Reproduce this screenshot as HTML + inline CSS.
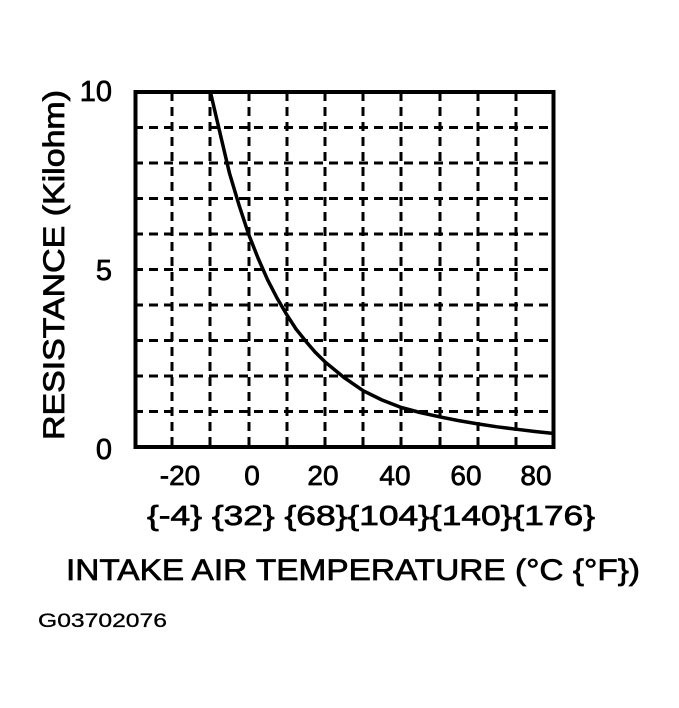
<!DOCTYPE html>
<html><head><style>html,body{margin:0;padding:0;background:#fff}</style></head>
<body>
<svg width="679" height="703" viewBox="0 0 679 703" xmlns="http://www.w3.org/2000/svg" font-family="Liberation Sans, Arial, sans-serif">
<g stroke="#000" stroke-width="3" stroke-dasharray="9,6" fill="none">
<line x1="172" y1="92" x2="172" y2="447"/><line x1="210" y1="92" x2="210" y2="447"/>
<line x1="249" y1="92" x2="249" y2="447"/><line x1="287" y1="92" x2="287" y2="447"/>
<line x1="325" y1="92" x2="325" y2="447"/><line x1="363" y1="92" x2="363" y2="447"/>
<line x1="401" y1="92" x2="401" y2="447"/><line x1="440" y1="92" x2="440" y2="447"/>
<line x1="478" y1="92" x2="478" y2="447"/><line x1="516" y1="92" x2="516" y2="447"/>
<line x1="134" y1="127.5" x2="554" y2="127.5"/><line x1="134" y1="163" x2="554" y2="163"/>
<line x1="134" y1="198.5" x2="554" y2="198.5"/><line x1="134" y1="234" x2="554" y2="234"/>
<line x1="134" y1="269.5" x2="554" y2="269.5"/><line x1="134" y1="305" x2="554" y2="305"/>
<line x1="134" y1="340.5" x2="554" y2="340.5"/><line x1="134" y1="376" x2="554" y2="376"/>
<line x1="134" y1="411.5" x2="554" y2="411.5"/>
</g>
<rect x="135.5" y="92" width="418" height="355" fill="none" stroke="#000" stroke-width="4"/>
<polyline points="210.4,92 220,133 229.5,173.3 239,205 248.5,234 258,258 267.6,279.8 277,298 286.7,314.6 296,329 305.8,341.2 315,352 324.9,361.8 344,377.5 363.1,390.7 382,400 401.3,407.5 420,412.5 439.5,416.8 458,420.5 477.7,423.9 497,426.8 515.9,429.2 535,431.5 554,433.5" fill="none" stroke="#000" stroke-width="3.5" stroke-linejoin="round"/>
<g font-size="29" text-anchor="end" stroke="#000" stroke-width="0.7">
<text x="112" y="101">10</text><text x="112" y="280">5</text><text x="112" y="459">0</text>
</g>
<text transform="translate(64,265) rotate(-90)" font-size="30" text-anchor="middle" textLength="350" lengthAdjust="spacingAndGlyphs" stroke="#000" stroke-width="0.8">RESISTANCE (Kilohm)</text>
<g font-size="28" text-anchor="middle" stroke="#000" stroke-width="0.7">
<text x="180" y="485">-20</text><text x="252" y="485">0</text><text x="323" y="485">20</text>
<text x="395" y="485">40</text><text x="466" y="485">60</text><text x="536" y="485">80</text>
</g>
<text x="147" y="525" font-size="28" textLength="448" lengthAdjust="spacingAndGlyphs" stroke="#000" stroke-width="0.7">{-4} {32} {68}{104}{140}{176}</text>
<text x="66" y="580" font-size="30" textLength="574" lengthAdjust="spacingAndGlyphs" stroke="#000" stroke-width="0.7">INTAKE AIR TEMPERATURE (°C {°F})</text>
<text x="38" y="627" font-size="19" textLength="129" lengthAdjust="spacingAndGlyphs" stroke="#000" stroke-width="0.3">G03702076</text>
</svg>
</body></html>
